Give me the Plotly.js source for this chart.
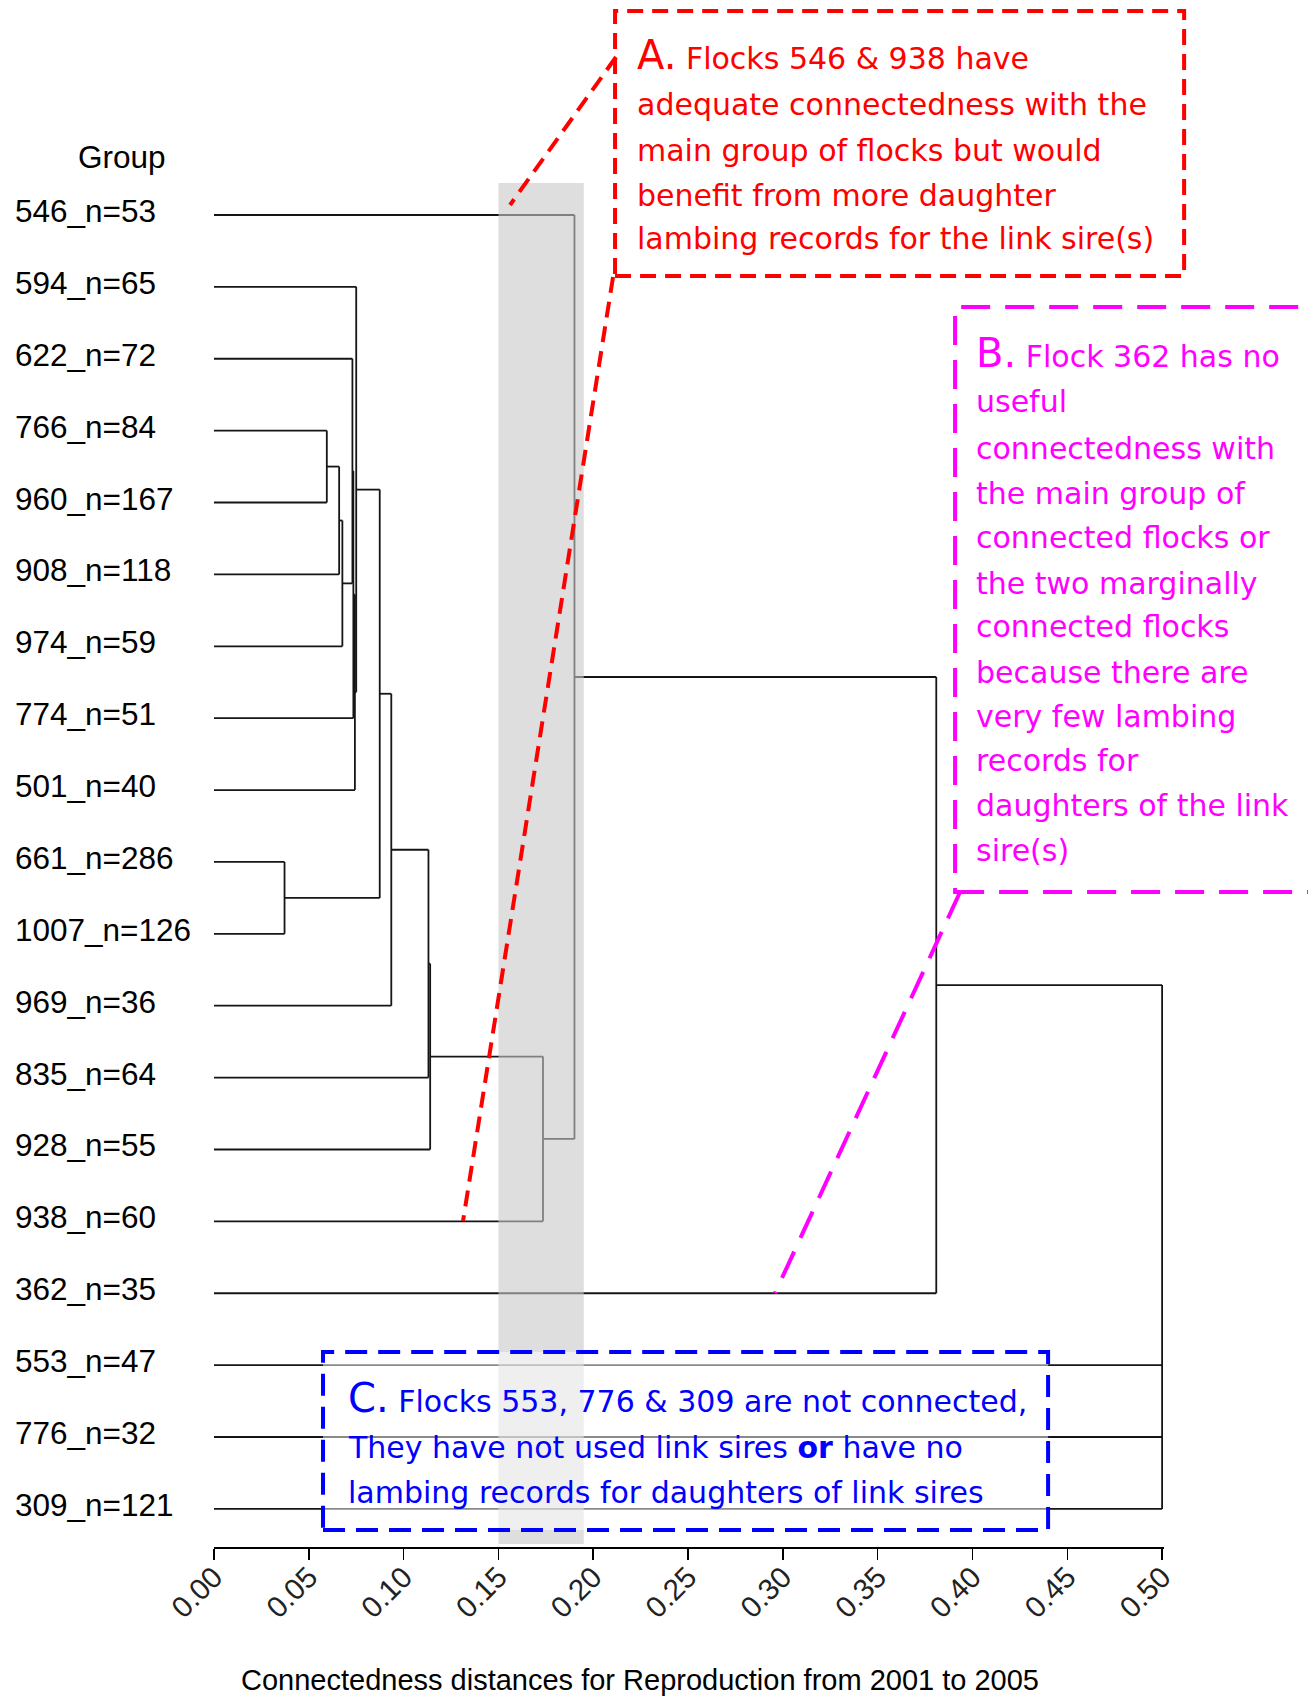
<!DOCTYPE html>
<html><head><meta charset="utf-8">
<script src="https://cdn.plot.ly/plotly-3.0.1.min.js"></script>
<style>body{margin:0;background:#fff}</style>
</head><body>
<div id="chart" style="width:1308px;height:1701px"></div>
<script>
// ---------------- data ----------------
const leafLabels = ["546_n=53","594_n=65","622_n=72","766_n=84","960_n=167","908_n=118","974_n=59","774_n=51","501_n=40","661_n=286","1007_n=126","969_n=36","835_n=64","928_n=55","938_n=60","362_n=35","553_n=47","776_n=32","309_n=121"];
// children of each merge: "L#" = leaf index (top to bottom), "M#" = earlier merge
const mergeChildren = [
  ["L3","L4"], ["M0","L5"], ["M1","L6"], ["L2","M2"], ["M3","L7"], ["M4","L8"],
  ["L1","M5"], ["L9","L10"], ["M6","M7"], ["M8","L11"], ["M9","L12"], ["M10","L13"],
  ["M11","L14"], ["L0","M12"], ["M13","L15"], ["M14","L16","L17","L18"]
];
const mergeHeights = [0.0595,0.0660,0.0677,0.0730,0.0735,0.0743,0.0750,0.0372,0.0874,0.0935,0.1131,0.1140,0.1735,0.1901,0.3809,0.5000];
const bandRange = [0.15, 0.195];
const xTickVals = [0,0.05,0.10,0.15,0.20,0.25,0.30,0.35,0.40,0.45,0.50];
const xTitle = "Connectedness distances for Reproduction from 2001 to 2005";
const groupTitle = "Group";
const noteA = ["<span style=\"font-size:40px\">A.</span> Flocks 546 &amp; 938 have","adequate connectedness with the","main group of flocks but would","benefit from more daughter","lambing records for the link sire(s)"];
const noteB = ["<span style=\"font-size:40px\">B.</span> Flock 362 has no","useful","connectedness with","the main group of","connected flocks or","the two marginally","connected flocks","because there are","very few lambing","records for","daughters of the link","sire(s)"];
const noteC = ["<span style=\"font-size:40px\">C.</span> Flocks 553, 776 &amp; 309 are not connected,","They have not used link sires <b>or</b> have no","lambing records for daughters of link sires"];

// ---------------- build dendrogram segments ----------------
const nodeX = {}, nodeY = {};
leafLabels.forEach((l,i)=>{ nodeX["L"+i]=0; nodeY["L"+i]=i; });
const segX = [], segY = [];
mergeChildren.forEach((ch,k)=>{
  const h = mergeHeights[k];
  const ys = ch.map(c=>nodeY[c]);
  ch.forEach(c=>{ segX.push(nodeX[c], h, null); segY.push(nodeY[c], nodeY[c], null); });
  segX.push(h, h, null); segY.push(Math.min(...ys), Math.max(...ys), null);
  nodeX["M"+k] = h;
  nodeY["M"+k] = ys.length===2 ? (ys[0]+ys[1])/2 : ys[0];
});

// ---------------- layout helpers ----------------
const W=1308, H=1701, ML=214, MT=183, MB=154, XMAX=0.501;
const PW = (1162-ML)*XMAX/0.5, PH = H-MT-MB;
const MR = W-ML-PW;
const px = x => (x-ML)/PW;
const py = y => (H-MB-y)/PH;
const yTop = -0.445, yBot = 18.53;

const FONT_C = "Comic Sans MS, DejaVu Sans, sans-serif";
const FONT_A = "Liberation Sans, Arial, sans-serif";
const annotations = [];
leafLabels.forEach((l,i)=>annotations.push({xref:'paper',yref:'y',x:px(13),y:i,xanchor:'left',yanchor:'middle',yshift:4,text:l,showarrow:false,font:{family:FONT_A,size:31.5,color:'#000'}}));
annotations.push({xref:'paper',yref:'paper',x:px(76),y:py(157),xanchor:'left',yanchor:'middle',text:groupTitle,showarrow:false,font:{family:FONT_A,size:31.5,color:'#000'}});
annotations.push({xref:'paper',yref:'paper',x:px(640),y:py(1680),xanchor:'center',yanchor:'middle',text:xTitle,showarrow:false,font:{family:FONT_A,size:29,color:'#000'}});
const aY=[55,104,150,195,239];
noteA.forEach((t,i)=>annotations.push({xref:'paper',yref:'paper',x:px(635),y:py(aY[i]),xanchor:'left',yanchor:'middle',text:t,showarrow:false,font:{family:FONT_C,size:30,color:'#ff0000'}}));
const bY=[353,402,448,493,537,583,626,672,716,761,805,850];
noteB.forEach((t,i)=>annotations.push({xref:'paper',yref:'paper',x:px(974),y:py(bY[i]),xanchor:'left',yanchor:'middle',text:t,showarrow:false,font:{family:FONT_C,size:30,color:'#ff00ff'}}));
const cY=[1398,1447,1492];
noteC.forEach((t,i)=>annotations.push({xref:'paper',yref:'paper',x:px(346),y:py(cY[i]),xanchor:'left',yanchor:'middle',text:t,showarrow:false,font:{family:FONT_C,size:30,color:'#0000ff'}}));

const rectP = (x0,y0,x1,y1,color,dash,fill)=>({type:'rect',xref:'paper',yref:'paper',x0:px(x0),x1:px(x1),y0:py(y1),y1:py(y0),line:{color:color,width:4,dash:dash},fillcolor:fill,layer:'above'});
const lineP = (x0,y0,x1,y1,color,dash)=>({type:'line',xref:'paper',yref:'paper',x0:px(x0),x1:px(x1),y0:py(y0),y1:py(y1),line:{color:color,width:4,dash:dash},layer:'above'});

const shapes = [
  {type:'rect',xref:'x',yref:'y',x0:bandRange[0],x1:bandRange[1],y0:yTop,y1:18.49,fillcolor:'rgba(200,200,200,0.6)',line:{width:0},layer:'above'},
  rectP(615,11,1184,276,'#ff0000','16px,9px','#ffffff'),
  lineP(616,57,510,205,'#ff0000','16px,9px'),
  lineP(613,277,463,1221,'#ff0000','16px,9px'),
  rectP(955,307,1340,892,'#ff00ff','29px,15px','#ffffff'),
  lineP(960,892,775,1293,'#ff00ff','29px,15px'),
  rectP(323,1352,1048,1530,'#0000ff','22px,11px','rgba(255,255,255,0.5)')
];

const trace = {x:segX,y:segY,mode:'lines',type:'scatter',line:{color:'#151515',width:1.8},hoverinfo:'skip',showlegend:false};

const layout = {
  width:W,height:H,margin:{l:ML,r:MR,t:MT,b:MB},
  paper_bgcolor:'#fff',plot_bgcolor:'#fff',showlegend:false,
  xaxis:{range:[0,XMAX],tickvals:xTickVals,tickformat:'.2f',tickangle:-45,ticks:'outside',ticklen:11,tickwidth:1.5,tickcolor:'#000',
    ticklabelstandoff:-12,
    showline:true,linewidth:2,linecolor:'#000',showgrid:false,zeroline:false,
    tickfont:{family:FONT_A,size:29.5,color:'#222'}},
  yaxis:{range:[yBot,yTop],visible:false,showgrid:false,zeroline:false},
  shapes:shapes,annotations:annotations
};
Plotly.newPlot('chart',[trace],layout,{staticPlot:true});
</script>
</body></html>
